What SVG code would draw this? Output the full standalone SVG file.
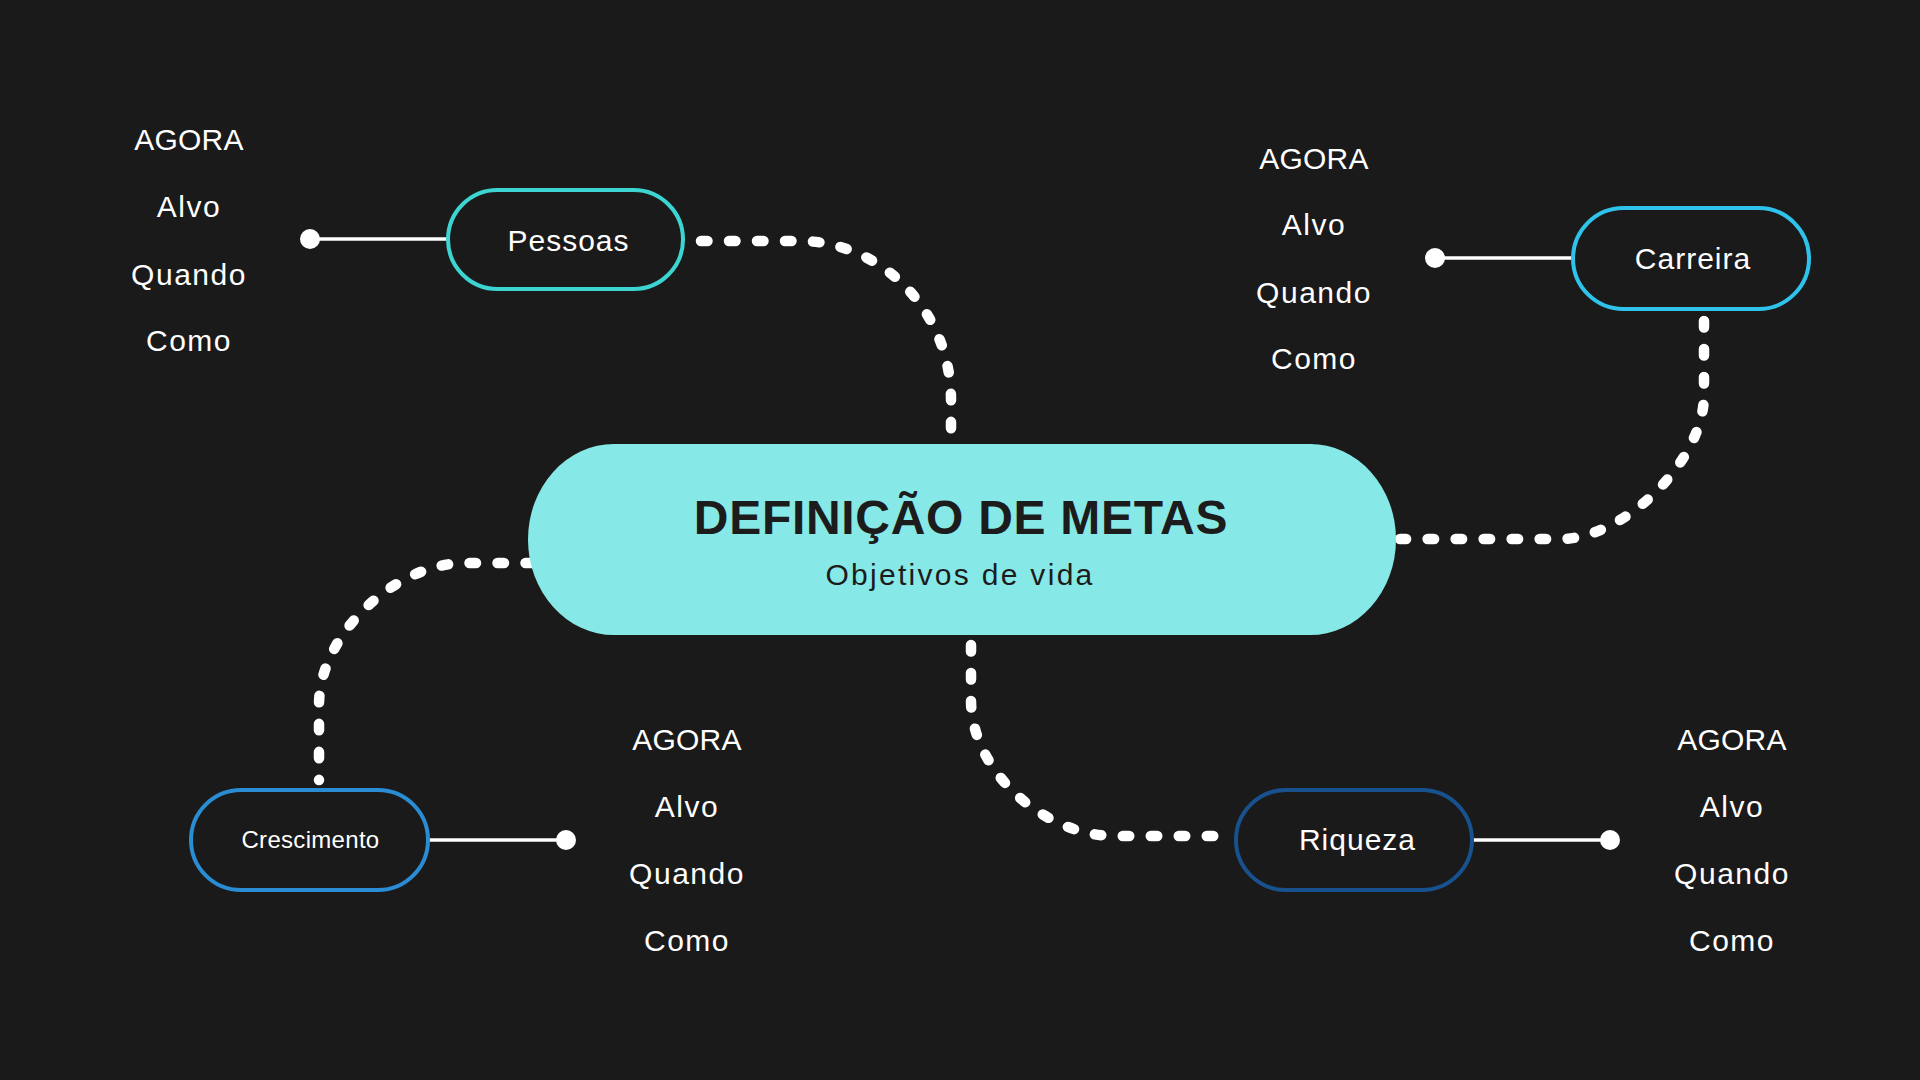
<svg xmlns="http://www.w3.org/2000/svg" width="1920" height="1080" viewBox="0 0 1920 1080">
  <style>
    .dash { fill: none; stroke: #ffffff; stroke-width: 10.5; stroke-linecap: round; stroke-dasharray: 6.5 21.5; }
    .solid { stroke: #ffffff; stroke-width: 3.5; }
    .dot { fill: #ffffff; }
    .node { fill: #1a1a1a; stroke-width: 4; }
    .lbl { font-family: "Liberation Sans", Arial, sans-serif; fill: #ffffff; text-anchor: middle; }
    .nl { font-size: 30px; letter-spacing: 1px; }
    .li { font-size: 30px; letter-spacing: 1.5px; }
    .cap { letter-spacing: 0.2px; }
    .title { font-family: "Liberation Sans", Arial, sans-serif; font-weight: bold; font-size: 48px; letter-spacing: 0.7px; fill: #1c1c1c; text-anchor: middle; }
    .sub { font-family: "Liberation Sans", Arial, sans-serif; font-size: 30px; letter-spacing: 2.3px; fill: #1c1c1c; text-anchor: middle; }
  </style>
  <rect x="0" y="0" width="1920" height="1080" fill="#1a1a1a"/>

  <g id="connectors">
    <path class="dash" d="M 701 241 L 800 241 C 880 241 951 310 951 400 L 951 432"/>
    <path class="dash" d="M 1704 321 L 1704 395 C 1704 460 1625 539 1560 539 L 1400 539"/>
    <path class="dash" d="M 532 563 L 465 563 C 395 563 319 635 319 705 L 319 780"/>
    <path class="dash" d="M 971 645 L 971 700 C 971 770 1043 836 1115 836 L 1226 836"/>
    <line class="solid" x1="310" y1="239" x2="448" y2="239"/>
    <circle class="dot" cx="310" cy="239" r="10"/>
    <line class="solid" x1="1435" y1="258" x2="1573" y2="258"/>
    <circle class="dot" cx="1435" cy="258" r="10"/>
    <line class="solid" x1="428" y1="840" x2="566" y2="840"/>
    <circle class="dot" cx="566" cy="840" r="10"/>
    <line class="solid" x1="1472" y1="840" x2="1610" y2="840"/>
    <circle class="dot" cx="1610" cy="840" r="10"/>
  </g>

  <g id="center">
    <rect x="528" y="444" width="868" height="191" rx="86" ry="95.5" fill="#87e9e7"/>
    <text class="title" x="961" y="534">DEFINIÇÃO DE METAS</text>
    <text class="sub" x="960" y="585">Objetivos de vida</text>
  </g>

  <g id="pessoas">
    <rect class="node" x="448" y="190" width="235" height="99" rx="49.5" stroke="#3cd5d2"/>
    <text class="lbl nl" x="568.5" y="251">Pessoas</text>
  </g>

  <g id="carreira">
    <rect class="node" x="1573" y="208" width="236" height="101" rx="50.5" stroke="#2fc3ec"/>
    <text class="lbl nl" x="1693" y="269">Carreira</text>
  </g>

  <g id="crescimento">
    <rect class="node" x="191" y="790" width="237" height="100" rx="50" stroke="#2a8cd3"/>
    <text class="lbl" x="310.5" y="848" font-size="24" letter-spacing="0.3">Crescimento</text>
  </g>

  <g id="riqueza">
    <rect class="node" x="1236" y="790" width="236" height="100" rx="50" stroke="#17528e"/>
    <text class="lbl nl" x="1357.5" y="850">Riqueza</text>
  </g>

  <g id="list-pessoas">
    <text class="lbl li cap" x="189" y="150">AGORA</text>
    <text class="lbl li" x="189" y="217">Alvo</text>
    <text class="lbl li" x="189" y="285">Quando</text>
    <text class="lbl li" x="189" y="351">Como</text>
  </g>

  <g id="list-carreira">
    <text class="lbl li cap" x="1314" y="169">AGORA</text>
    <text class="lbl li" x="1314" y="235">Alvo</text>
    <text class="lbl li" x="1314" y="303">Quando</text>
    <text class="lbl li" x="1314" y="369">Como</text>
  </g>

  <g id="list-crescimento">
    <text class="lbl li cap" x="687" y="750">AGORA</text>
    <text class="lbl li" x="687" y="817">Alvo</text>
    <text class="lbl li" x="687" y="884">Quando</text>
    <text class="lbl li" x="687" y="951">Como</text>
  </g>

  <g id="list-riqueza">
    <text class="lbl li cap" x="1732" y="750">AGORA</text>
    <text class="lbl li" x="1732" y="817">Alvo</text>
    <text class="lbl li" x="1732" y="884">Quando</text>
    <text class="lbl li" x="1732" y="951">Como</text>
  </g>
</svg>
